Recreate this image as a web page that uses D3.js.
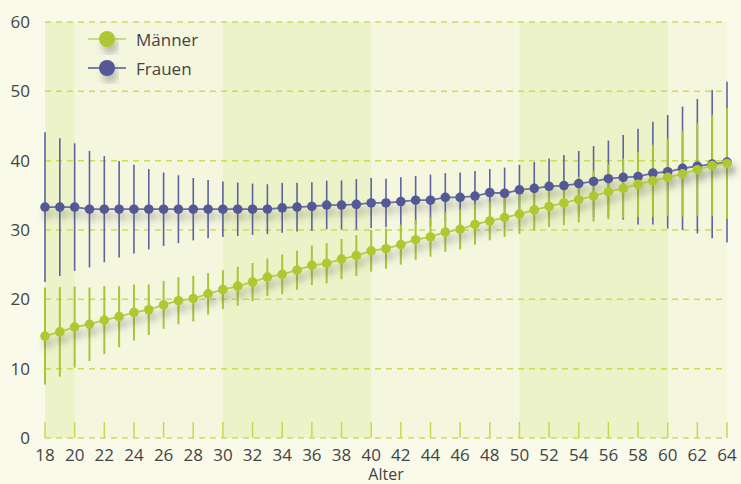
<!DOCTYPE html>
<html><head><meta charset="utf-8">
<script src="https://cdn.jsdelivr.net/npm/d3@7"></script>
<style>
html,body{margin:0;padding:0;background:#f9fae9;}
svg{display:block;font-family:"Open Sans",sans-serif;}
</style></head><body>
<svg id="chart" width="741" height="484"></svg>
<script>
const ages = d3.range(18, 65);
const maennerMean = [14.7,15.3,16.0,16.4,17.0,17.5,18.1,18.5,19.2,19.8,20.1,20.8,21.4,21.9,22.5,23.2,23.6,24.2,24.9,25.2,25.8,26.3,27.0,27.3,27.9,28.6,29.0,29.7,30.1,30.8,31.3,31.8,32.3,32.9,33.4,33.9,34.4,34.9,35.5,36.0,36.6,37.1,37.6,38.1,38.7,39.3,39.6];
const maennerSd = [7.0,6.45,5.85,5.3,4.9,4.4,4.05,3.65,3.45,3.4,3.3,3.0,2.8,2.8,2.75,2.7,2.85,2.8,2.85,2.9,2.9,2.95,3.0,2.9,2.9,2.9,2.85,2.85,2.9,2.9,2.8,2.8,2.9,3.0,3.0,3.2,3.3,3.7,3.95,4.3,4.7,5.2,5.6,6.2,6.7,7.3,8.0];
const frauenMean = [33.3,33.3,33.3,33.0,33.0,33.0,33.0,33.0,33.0,33.0,33.0,33.0,33.0,33.0,33.0,33.0,33.2,33.3,33.4,33.6,33.6,33.7,33.9,33.9,34.1,34.3,34.3,34.7,34.7,34.9,35.4,35.3,35.8,36.0,36.3,36.4,36.7,37.0,37.4,37.6,37.7,38.2,38.4,38.9,39.2,39.5,39.8];
const frauenSd = [10.8,9.95,9.2,8.4,7.65,6.95,6.4,5.8,5.3,4.9,4.5,4.2,4.0,3.85,3.7,3.6,3.6,3.5,3.5,3.5,3.55,3.65,3.6,3.5,3.5,3.5,3.7,3.5,3.6,3.6,3.4,3.7,3.6,3.8,4.0,4.4,4.7,5.1,5.5,6.1,6.9,7.4,8.2,8.9,9.7,10.7,11.6];
const seriesNames = ["Männer","Frauen"];
const yTicks = [0,10,20,30,40,50,60];
const xTicks = d3.range(18, 65, 2);
const shadedBands = [[18,20],[30,40],[50,60]];
const xTitle = "Alter";

const svg = d3.select("#chart");
const x = d3.scaleLinear().domain([18,64]).range([45,727]);
const y = d3.scaleLinear().domain([0,60]).range([438,22]);

const defs = svg.append("defs");
const f = defs.append("filter").attr("id","shadow").attr("x","-20%").attr("y","-30%").attr("width","140%").attr("height","180%");
f.append("feDropShadow").attr("dx",3).attr("dy",7).attr("stdDeviation",3.5).attr("flood-color","#555").attr("flood-opacity",0.35);

svg.append("rect").attr("x",x(18)).attr("y",y(60)).attr("width",x(64)-x(18)).attr("height",y(0)-y(60)).attr("fill","#f4f7de");
svg.selectAll(".band").data(shadedBands).join("rect")
  .attr("x",d=>x(d[0])).attr("y",y(60)).attr("width",d=>x(d[1])-x(d[0])).attr("height",y(0)-y(60)).attr("fill","#edf3c8");

svg.selectAll(".grid").data(yTicks).join("line")
  .attr("x1",x(18)).attr("x2",x(64)).attr("y1",d=>y(d)).attr("y2",d=>y(d))
  .attr("stroke","#cadd55").attr("stroke-width",1.5).attr("stroke-dasharray","6,5");

svg.selectAll(".tick").data(xTicks).join("line")
  .attr("x1",d=>x(d)).attr("x2",d=>x(d)).attr("y1",y(0)-16).attr("y2",y(0))
  .attr("stroke","#c6da4c").attr("stroke-width",1.5);

svg.selectAll(".ylab").data(yTicks).join("text")
  .attr("x",30).attr("y",d=>y(d)).attr("dy","0.36em").attr("text-anchor","end")
  .attr("font-size",17).attr("fill","#444").text(d=>d);
svg.selectAll(".xlab").data(xTicks).join("text")
  .attr("x",d=>x(d)).attr("y",461).attr("text-anchor","middle")
  .attr("font-size",17).attr("fill","#444").text(d=>d);
svg.append("text").attr("x",(x(18)+x(64))/2).attr("y",480).attr("text-anchor","middle")
  .attr("font-size",16).attr("fill","#444").text(xTitle);

const fr = ages.map((a,i)=>({a, m:frauenMean[i], s:frauenSd[i]}));
const ma = ages.map((a,i)=>({a, m:maennerMean[i], s:maennerSd[i]}));

svg.append("g").selectAll("line").data(fr).join("line")
  .attr("x1",d=>x(d.a)).attr("x2",d=>x(d.a)).attr("y1",d=>y(d.m+d.s)).attr("y2",d=>y(d.m-d.s))
  .attr("stroke","#5c639e").attr("stroke-width",1.6);
svg.append("g").selectAll("line").data(ma).join("line")
  .attr("x1",d=>x(d.a)).attr("x2",d=>x(d.a)).attr("y1",d=>y(d.m+d.s)).attr("y2",d=>y(d.m-d.s))
  .attr("stroke","#a9c43a").attr("stroke-width",2);

const line = d3.line().x(d=>x(d.a)).y(d=>y(d.m));
function drawSeries(data, lineColor, dotColor){
  const g = svg.append("g").attr("filter","url(#shadow)");
  g.append("path").datum(data).attr("d",line).attr("fill","none").attr("stroke",lineColor).attr("stroke-width",1.8);
  g.selectAll("circle").data(data).join("circle").attr("cx",d=>x(d.a)).attr("cy",d=>y(d.m)).attr("r",4.8).attr("fill",dotColor);
}
drawSeries(fr, "#6a70a6", "#525896");
drawSeries(ma, "#b5cc4a", "#aec832");

const legend = [{name:seriesNames[0], line:"#bdd364", dot:"#aec832", y:39},{name:seriesNames[1], line:"#525896", dot:"#525896", y:68}];
const lg = svg.append("g");
legend.forEach(l=>{
  lg.append("line").attr("x1",88).attr("x2",126).attr("y1",l.y).attr("y2",l.y).attr("stroke",l.line).attr("stroke-width",1.5);
  lg.append("circle").attr("cx",107).attr("cy",l.y).attr("r",8).attr("fill",l.dot).attr("filter","url(#shadow)");
  lg.append("text").attr("x",136).attr("y",l.y+7).attr("font-size",17).attr("fill","#444").text(l.name);
});
</script>
</body></html>
